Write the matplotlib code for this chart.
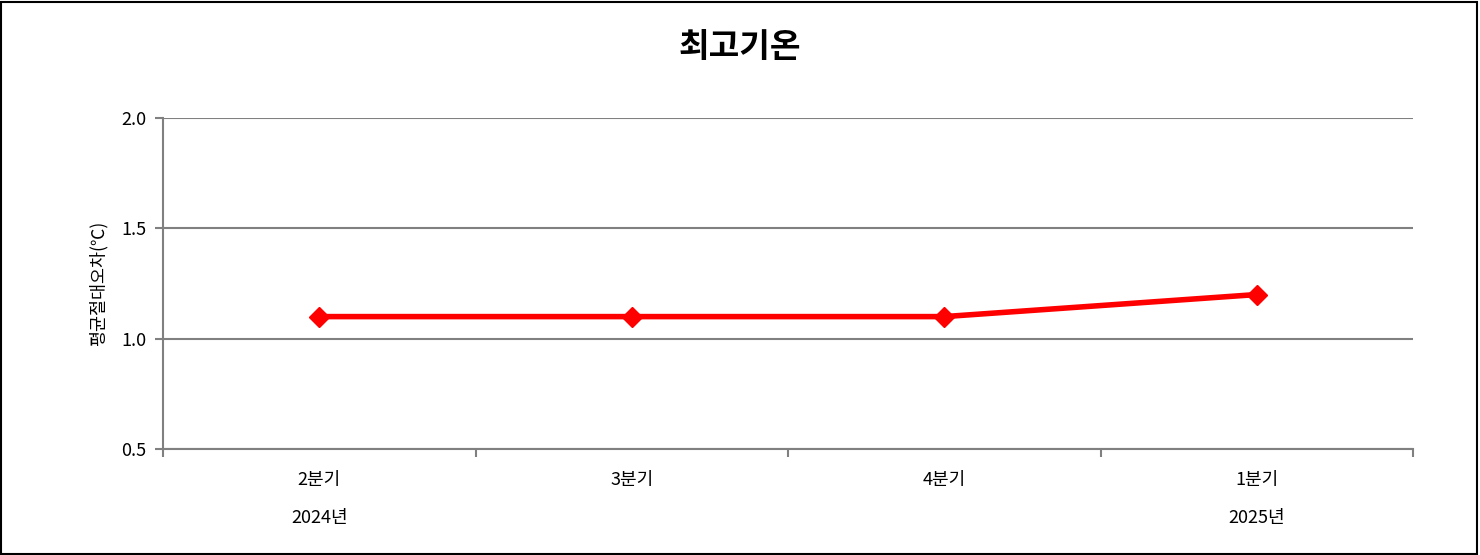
import matplotlib
matplotlib.use("Agg")
import matplotlib.pyplot as plt
from matplotlib.patches import Rectangle

plt.rcParams['font.family'] = ['Noto Sans CJK KR', 'DejaVu Sans']

categories = ['2분기', '3분기', '4분기', '1분기']
years = ['2024년', '', '', '2025년']
values = [1.1, 1.1, 1.1, 1.2]
yticks = [0.5, 1.0, 1.5, 2.0]
title = '최고기온'
ylabel = '평균절대오차(℃)'

fig = plt.figure(figsize=(14.8, 5.55), dpi=100)
ax = fig.add_axes([163/1480, 1-449/555, (1413-163)/1480, (449-118)/555])

x = list(range(len(categories)))
ax.plot(x, values, color='#FF0000', lw=4, marker='D', markersize=10, zorder=3)

ax.set_xlim(-0.5, len(categories) - 0.5)
ax.set_ylim(0.5, 2.0)
ax.set_yticks(yticks)
ax.set_yticklabels([f'{v:.1f}' for v in yticks], fontsize=13)
ax.yaxis.grid(True, color='#808080', lw=1.5)
ax.set_axisbelow(True)

ax.set_xticks(x)
ax.set_xticklabels([f'{c}\n\n{y}' if y else c for c, y in zip(categories, years)],
                   fontsize=13, va='top', linespacing=1.05)
ax.set_xticks([i - 0.5 for i in range(len(categories) + 1)], minor=True)
ax.tick_params(axis='x', which='major', length=0, pad=16)
ax.tick_params(axis='x', which='minor', length=6, color='#808080', width=1.5)
ax.tick_params(axis='y', length=6, color='#808080', width=1.5, pad=6)

for s in ['top', 'right']:
    ax.spines[s].set_visible(False)
for s in ['left', 'bottom']:
    ax.spines[s].set_color('#808080')
    ax.spines[s].set_linewidth(1.5)

ax.set_ylabel(ylabel, fontsize=12.5, labelpad=10)
fig.text(0.5, 1-47/555, title, ha='center', va='center', fontsize=24, fontweight='bold')

fig.patches.append(Rectangle((0.001, 0.002), 0.997, 0.995, transform=fig.transFigure,
                             fill=False, edgecolor='black', lw=1.5))

fig.savefig('out.png', dpi=100)
